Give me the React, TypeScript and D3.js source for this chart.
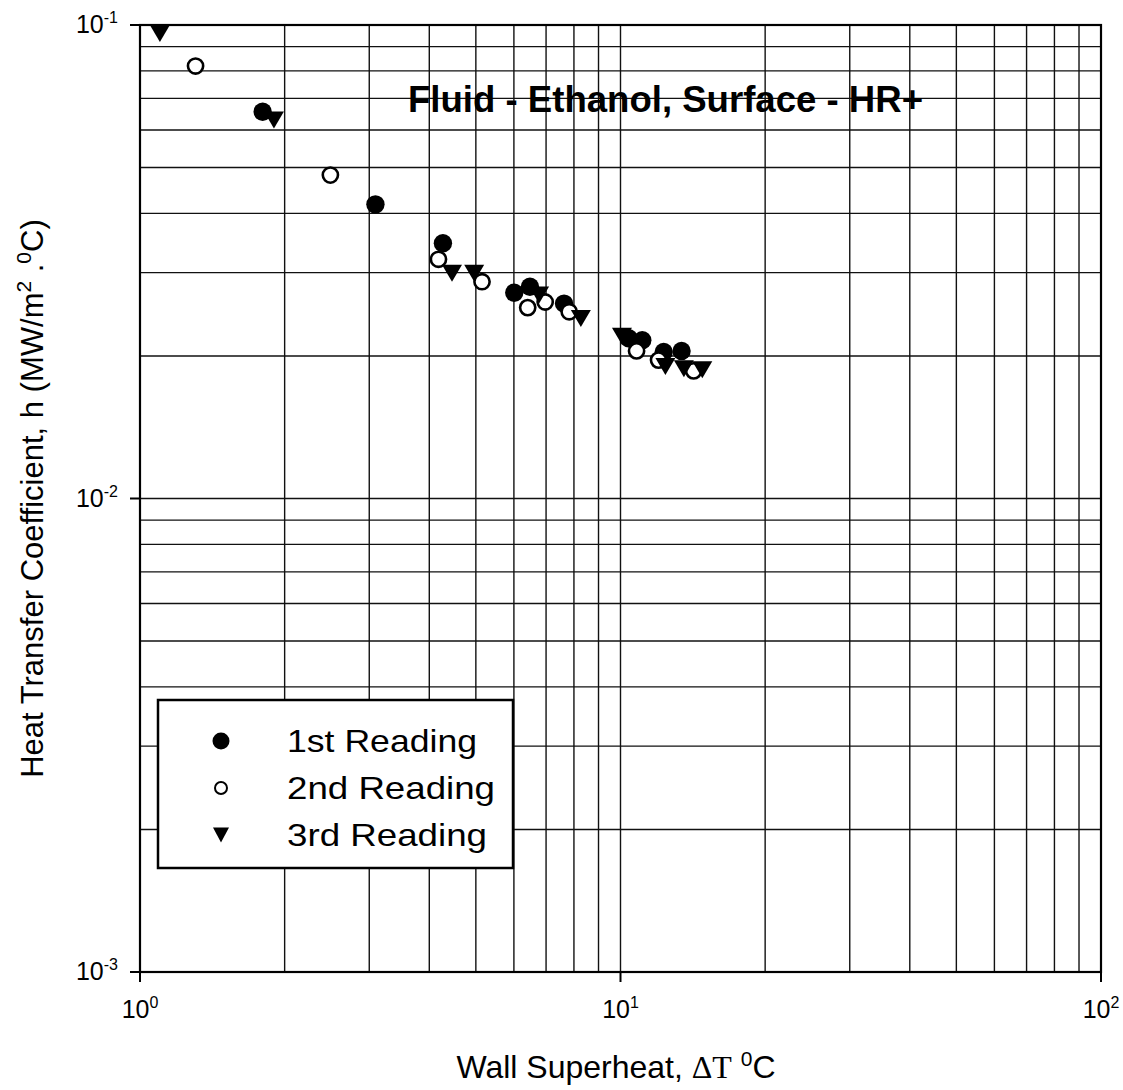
import React from "react";
import * as d3 from "d3";

const reading1X = [1.8, 3.09, 4.27, 6.01, 6.48, 7.63, 10.4, 11.1, 12.3, 13.4];
const reading1Y = [0.0656, 0.0418, 0.0346, 0.0272, 0.028, 0.0258, 0.0218, 0.0216, 0.0204, 0.0205];
const reading2X = [1.305, 2.49, 4.18, 5.15, 6.41, 6.97, 7.82, 10.8, 12.0, 14.2];
const reading2Y = [0.0819, 0.0482, 0.032, 0.0287, 0.0253, 0.026, 0.0248, 0.0205, 0.0196, 0.0186];
const reading3X = [1.1, 1.9, 4.46, 4.96, 6.77, 8.27, 10.07, 12.4, 13.55, 14.8];
const reading3Y = [0.096, 0.063, 0.0299, 0.0299, 0.0269, 0.024, 0.022, 0.019, 0.0188, 0.0187];

const xMajorTicks = [1, 10, 100];
const xTickExponents = ["0", "1", "2"];
const yMajorTicks = [0.1, 0.01, 0.001];
const yTickExponents = ["-1", "-2", "-3"];
const legendLabels = ["1st Reading", "2nd Reading", "3rd Reading"];
const titleText = "Fluid - Ethanol, Surface - HR+";

const W = 1123;
const H = 1090;
const L = 140, R = 1101, T = 25, B = 972;

export default function App() {
  const x = d3.scaleLog().domain([1, 100]).range([L, R]);
  const y = d3.scaleLog().domain([0.001, 0.1]).range([B, T]);

  const xGrid: number[] = [];
  for (const d of [1, 10]) for (let k = 2; k <= 9; k++) xGrid.push(d * k);
  xGrid.push(10);
  const yGrid: number[] = [];
  for (const d of [0.001, 0.01]) for (let k = 2; k <= 9; k++) yGrid.push(d * k);
  yGrid.push(0.01);

  const sans = "'Liberation Sans', Arial, sans-serif";
  const serif = "'Liberation Serif', 'Times New Roman', serif";

  const tri = (cx: number, cy: number, w: number, h: number) =>
    `M${cx - w / 2},${cy - h / 2}L${cx + w / 2},${cy - h / 2}L${cx},${cy + h / 2}Z`;

  const s1 = reading1X.map((v, i) => [x(v), y(reading1Y[i])]);
  const s2 = reading2X.map((v, i) => [x(v), y(reading2Y[i])]);
  const s3 = reading3X.map((v, i) => [x(v), y(reading3Y[i])]);

  const legX = 158, legY = 700, legW = 355, legH = 168;
  const rowY = [741, 788, 835];

  return (
    <svg width={W} height={H} style={{ position: "absolute", left: 0, top: 0, background: "#fff" }}>
      <rect x={0} y={0} width={W} height={H} fill="#fff" />
      {xGrid.map((v, i) => (
        <line key={"xg" + i} x1={x(v)} x2={x(v)} y1={T} y2={B} stroke="#111" strokeWidth={1.4} />
      ))}
      {yGrid.map((v, i) => (
        <line key={"yg" + i} x1={L} x2={R} y1={y(v)} y2={y(v)} stroke="#111" strokeWidth={1.4} />
      ))}
      <rect x={L} y={T} width={R - L} height={B - T} fill="none" stroke="#000" strokeWidth={2.2} />
      {xMajorTicks.map((v, i) => (
        <line key={"xt" + i} x1={x(v)} x2={x(v)} y1={B} y2={B + 10} stroke="#000" strokeWidth={2} />
      ))}
      {yMajorTicks.map((v, i) => (
        <line key={"yt" + i} x1={L - 10} x2={L} y1={y(v)} y2={y(v)} stroke="#000" strokeWidth={2} />
      ))}
      {xMajorTicks.map((v, i) => (
        <text key={"xl" + i} x={x(v)} y={1018} textAnchor="middle" fontFamily={sans} fontSize={25} fill="#000">
          10<tspan fontSize={16} dy={-10}>{xTickExponents[i]}</tspan>
        </text>
      ))}
      {yMajorTicks.map((v, i) => (
        <text key={"yl" + i} x={118} y={y(v) + 8} textAnchor="end" fontFamily={sans} fontSize={25} fill="#000">
          10<tspan fontSize={16} dy={-10}>{yTickExponents[i]}</tspan>
        </text>
      ))}
      <text x={408} y={112} fontFamily={sans} fontWeight="bold" fontSize={36} fill="#000"
        textLength={515} lengthAdjust="spacingAndGlyphs">
        {titleText}
      </text>
      {s1.map((p, i) => (
        <circle key={"a" + i} cx={p[0]} cy={p[1]} r={9.2} fill="#000" />
      ))}
      {s2.map((p, i) => (
        <circle key={"b" + i} cx={p[0]} cy={p[1]} r={7.6} fill="#fff" stroke="#000" strokeWidth={2.6} />
      ))}
      {s3.map((p, i) => (
        <path key={"c" + i} d={tri(p[0], p[1], 20, 17)} fill="#000" />
      ))}
      <rect x={legX} y={legY} width={legW} height={legH} fill="#fff" stroke="#000" strokeWidth={2.5} />
      <circle cx={221} cy={rowY[0]} r={8.5} fill="#000" />
      <circle cx={221} cy={rowY[1]} r={6} fill="#fff" stroke="#000" strokeWidth={2} />
      <path d={tri(221, rowY[2], 16, 15)} fill="#000" />
      {legendLabels.map((t, i) => (
        <text key={"lg" + i} x={287} y={rowY[i] + 11} fontFamily={sans} fontSize={32} fill="#000"
          textLength={i === 0 ? 190 : i === 1 ? 208 : 200} lengthAdjust="spacingAndGlyphs">
          {t}
        </text>
      ))}
      <text transform={`translate(43,${(T + B) / 2}) rotate(-90)`} textAnchor="middle" fontFamily={sans} fontSize={31} fill="#000">
        Heat Transfer Coefficient, h (MW/m<tspan fontSize={21} dy={-12}>2</tspan>
        <tspan dy={12}> .</tspan>
        <tspan fontSize={21} dy={-12}>0</tspan>
        <tspan dy={12}>C)</tspan>
      </text>
      <text x={616} y={1078} textAnchor="middle" fontFamily={sans} fontSize={32} fill="#000">
        Wall Superheat, <tspan fontFamily={serif}>ΔT</tspan> <tspan fontSize={21} dy={-12}>0</tspan>
        <tspan dy={12}>C</tspan>
      </text>
    </svg>
  );
}
